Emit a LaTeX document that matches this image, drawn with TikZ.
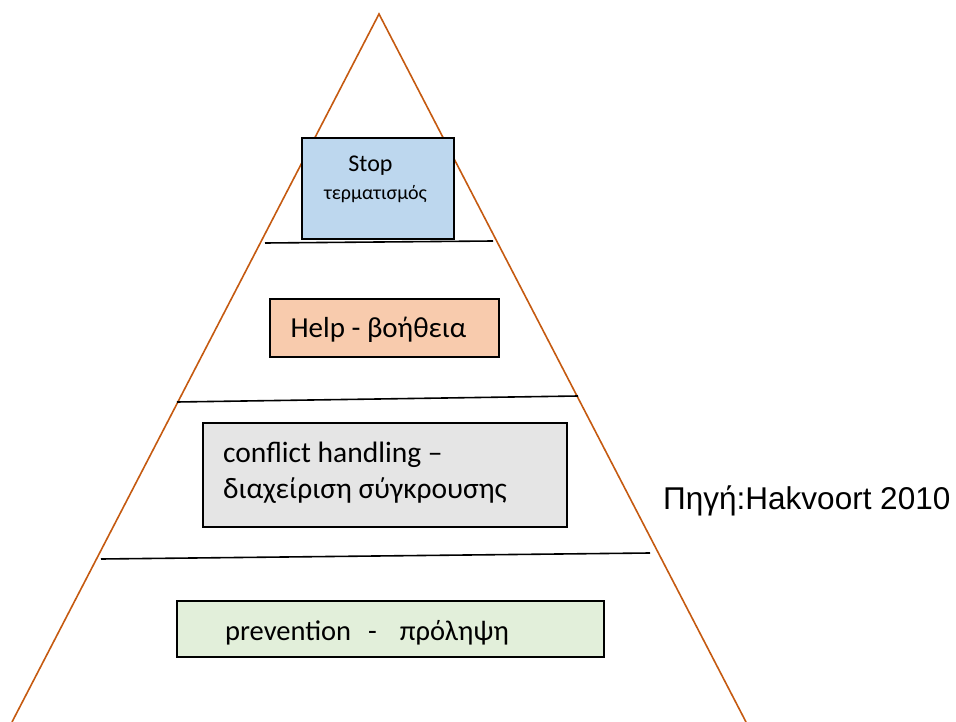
\documentclass[tikz,border=0pt]{standalone}
\usepackage{fontspec}
\setmainfont{Carlito}
\newfontfamily\arialfont{Liberation Sans}
\definecolor{tricol}{HTML}{C55A11}
\definecolor{stopfill}{HTML}{BDD7EE}
\definecolor{helpfill}{HTML}{F8CBAD}
\definecolor{conffill}{HTML}{E5E5E5}
\definecolor{prevfill}{HTML}{E2EFDA}
\begin{document}
\begin{tikzpicture}[x=1pt,y=-1pt,
  boxstyle/.style={draw=black, line width=1.6pt, inner sep=0pt, anchor=north west},
  sepline/.style={draw=black, line width=1.6pt},
  txt/.style={inner sep=0pt, text=black}]
\useasboundingbox (0,0) rectangle (956,722);
% pyramid
\coordinate (apex) at (379,14);
\coordinate (bl) at (12,722);
\coordinate (br) at (746,722);
\draw[tricol, line width=1.6pt] (bl) -- (apex) -- (br);
% separator lines
\coordinate (l1a) at (265,243); \coordinate (l1b) at (493,241);
\coordinate (l2a) at (177,402); \coordinate (l2b) at (578,396);
\coordinate (l3a) at (101,559); \coordinate (l3b) at (650,553);
\draw[sepline] (l1a) -- (l1b);
\draw[sepline] (l2a) -- (l2b);
\draw[sepline] (l3a) -- (l3b);
% boxes
\node[boxstyle, fill=stopfill, minimum width=152pt, minimum height=101pt] (stop) at (301,137) {};
\node[boxstyle, fill=helpfill, minimum width=229pt, minimum height=58pt] (help) at (269,298) {};
\node[boxstyle, fill=conffill, minimum width=364pt, minimum height=104pt] (conf) at (202,422) {};
\node[boxstyle, fill=prevfill, minimum width=427pt, minimum height=56pt] (prev) at (176,600) {};
% texts
\node[txt, font=\fontsize{24}{28}\selectfont, anchor=base] (stopt1) at (370.5,172) {Stop};
\node[txt, font=\fontsize{20}{24}\selectfont, anchor=base] (stopt2) at (375.5,200) {τερματισμός};
\node[txt, font=\fontsize{29}{34}\selectfont, anchor=base] (helpt) at (378.5,337) {Help - βοήθεια};
\node[txt, font=\fontsize{29.5}{35}\selectfont, anchor=base west] (conft1) at (223,462) {conflict handling –};
\node[txt, font=\fontsize{29.5}{35}\selectfont, anchor=base west] (conft2) at (223,498) {διαχείριση σύγκρουσης};
\node[txt, font=\fontsize{28.5}{34}\selectfont, anchor=base west] (prevt) at (225,640) {prevention\hspace{17pt}-\hspace{23pt}πρόληψη};
\node[txt, font=\arialfont\fontsize{31.5}{37}\selectfont, anchor=base west] (src) at (663,509) {Πηγή:Hakvoort 2010};
\end{tikzpicture}
\end{document}
